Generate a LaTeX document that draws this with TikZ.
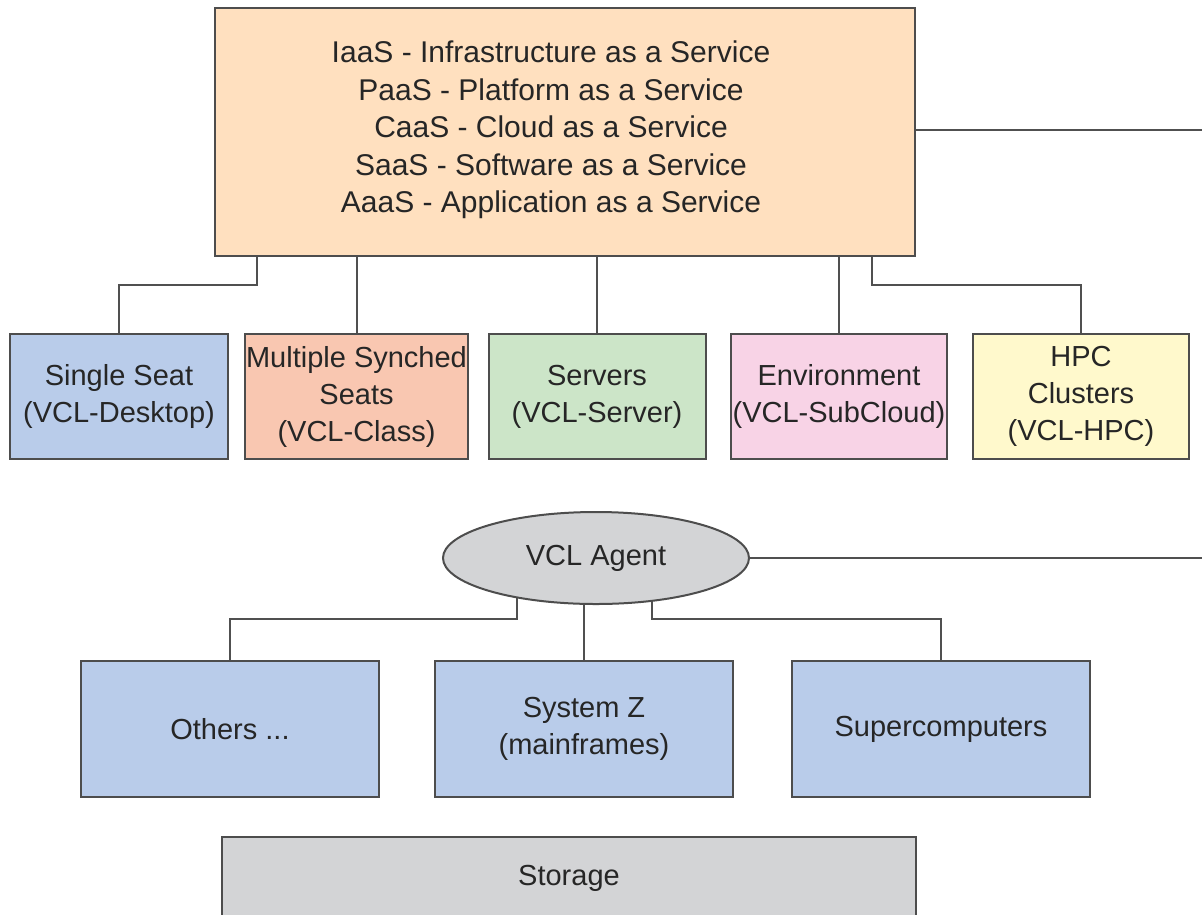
\documentclass[tikz,border=0pt]{standalone}
\usepackage{fontspec}
\setmainfont{Liberation Sans}
\usetikzlibrary{shapes.geometric,backgrounds,calc}
\definecolor{peach}{HTML}{FFE0BF}
\definecolor{lblue}{HTML}{B9CCEA}
\definecolor{salmon}{HTML}{F9C7B1}
\definecolor{lgreen}{HTML}{CCE5C8}
\definecolor{lpink}{HTML}{F8D3E6}
\definecolor{lyellow}{HTML}{FFF9CC}
\definecolor{lgrey}{HTML}{D3D4D6}
\definecolor{edgec}{HTML}{4D4D4D}
\definecolor{wirec}{HTML}{505050}
\definecolor{txtc}{HTML}{262626}
\begin{document}
\begin{tikzpicture}[x=1pt,y=-1pt,
  box/.style={draw=edgec, line width=2pt, inner sep=0pt, align=center,
    font=\fontsize{29}{37}\selectfont, text=txtc},
  lbl/.style={inner sep=0pt, align=center, font=\fontsize{30}{37.5}\selectfont, text=txtc},
  conn/.style={draw=wirec, line width=2pt}]
\path[use as bounding box, clip] (0,0) rectangle (1202,914);

% top box
\node[box, fill=peach, minimum width=700pt, minimum height=248pt] (top) at (565,132) {};
\node[lbl] (toptext) at (551,130) {IaaS - Infrastructure as a Service\\PaaS - Platform as a Service\\CaaS - Cloud as a Service\\SaaS - Software as a Service\\AaaS - Application as a Service};

% service row
\node[box, fill=lblue, minimum width=218pt, minimum height=125pt] (single) at (119,396.5) {Single Seat\\(VCL-Desktop)};
\node[box, fill=salmon, minimum width=223pt, minimum height=125pt] (multi) at (356.5,396.5) {Multiple Synched\\Seats\\(VCL-Class)};
\node[box, fill=lgreen, minimum width=217pt, minimum height=125pt] (servers) at (597,396.5) {Servers\\(VCL-Server)};
\node[box, fill=lpink, minimum width=216pt, minimum height=125pt] (env) at (839,396.5) {Environment\\(VCL-SubCloud)};
\node[box, fill=lyellow, minimum width=216pt, minimum height=125pt] (hpc) at (1081,396.5) {HPC\\Clusters\\(VCL-HPC)};

% agent
\node[box, ellipse, fill=lgrey, minimum width=306pt, minimum height=92pt] (agent) at (596,558) {VCL Agent};

% lower row
\node[box, fill=lblue, minimum width=298pt, minimum height=136pt] (others) at (230,729) {Others ...};
\node[box, fill=lblue, minimum width=298pt, minimum height=136pt] (sysz) at (584,729) {System Z\\(mainframes)};
\node[box, fill=lblue, minimum width=298pt, minimum height=136pt] (super) at (941,729) {Supercomputers};

% storage
\node[box, fill=lgrey, minimum width=694pt, minimum height=82pt] (storage) at (569,878) {Storage};

% right-edge coordinates
\coordinate (redge1) at (1202,130);
\coordinate (redge2) at (1202,558);

% connectors
\begin{pgfonlayer}{background}
\fill[white] (0,0) rectangle (1202,914);
\draw[conn] ($(top.south west)+(43,0)$) -- ++(0,28) -| (single.north);
\draw[conn] (multi.north |- top.south) -- (multi.north);
\draw[conn] (servers.north |- top.south) -- (servers.north);
\draw[conn] (env.north |- top.south) -- (env.north);
\draw[conn] ($(top.south east)+(-44,0)$) -- ++(0,28) -| (hpc.north);
\draw[conn] (top.east |- redge1) -- (redge1);

\draw[conn] ($(agent.center)+(-79,0)$) -- ++(0,61) -| (others.north);
\draw[conn] (agent.center -| sysz.north) -- (sysz.north);
\draw[conn] ($(agent.center)+(56,0)$) -- ++(0,61) -| (super.north);
\draw[conn] (agent.center) -- (redge2);
\end{pgfonlayer}
\end{tikzpicture}
\end{document}
